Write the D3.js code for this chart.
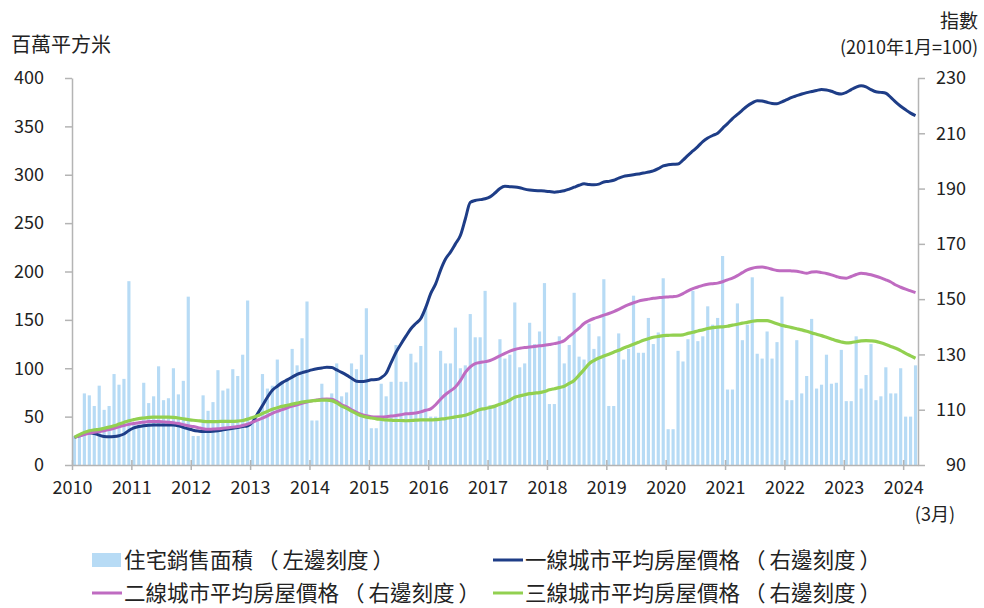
<!DOCTYPE html>
<html>
<head>
<meta charset="utf-8">
<script src="https://d3js.org/d3.v7.min.js"></script>
<style>
  body { margin: 0; background: #fff; }
  svg { font-family: "Noto Sans CJK TC", "Noto Sans", sans-serif; }
</style>
</head>
<body>
<div id="chart"></div>
<script>
// year tick labels, one per January
var years = ['2010','2011','2012','2013','2014','2015','2016','2017','2018','2019','2020','2021','2022','2023','2024'];

// residential floor space sold, million sq m, monthly Jan 2010 - Mar 2024
var salesArea = [
  30, 30, 74, 72, 61, 82, 57, 61, 94, 83, 89, 190,
  42, 42, 85, 64, 71, 102, 67, 69, 100, 73, 87, 174,
  30, 30, 72, 56, 65, 98, 77, 79, 99, 92, 114, 170,
  45, 45, 94, 79, 82, 109, 87, 87, 120, 103, 131, 169,
  46, 46, 84, 69, 74, 105, 71, 75, 105, 99, 114, 162,
  38, 38, 84, 71, 86, 124, 86, 86, 115, 106, 123, 164,
  50, 50, 118, 105, 105, 142, 100, 103, 156, 132, 132, 180,
  62, 62, 130, 110, 114, 168, 101, 105, 147, 125, 138, 188,
  63, 63, 133, 105, 124, 178, 112, 109, 146, 120, 133, 192,
  61, 61, 136, 109, 120, 175, 116, 116, 152, 125, 137, 193,
  37, 37, 118, 107, 130, 180, 128, 133, 164, 145, 152, 216,
  78, 78, 167, 129, 145, 194, 115, 110, 138, 110, 127, 174,
  67, 67, 129, 74, 92, 151, 79, 83, 114, 84, 85, 119,
  66, 66, 133, 79, 93, 125, 67, 71, 101, 74, 74, 100,
  50, 50, 103
];

// average house price index, Jan 2010 = 100
var tier1 = [
  100, 100.6, 101.3, 101.7, 101.4, 100.8, 100.3, 100.2, 100.3, 100.6, 101.2, 102.5,
  103.4, 103.9, 104.2, 104.4, 104.5, 104.5, 104.5, 104.5, 104.5, 104.2, 103.6, 103.1,
  102.6, 102.3, 102.1, 102.1, 102.2, 102.4, 102.7, 103.0, 103.3, 103.6, 103.9, 104.2,
  105.5, 108.5, 111.5, 114.5, 117, 118.5, 119.8, 120.8, 121.8, 122.8, 123.4, 123.9,
  124.4, 124.8, 125.1, 125.4, 125.3, 124.4, 123.5, 122.5, 121.4, 120.3, 120.2, 120.4,
  120.8, 120.9, 121.6, 123.2, 127, 130.8, 133.8, 136.6, 139.3, 141.2, 143, 147,
  152, 155.5, 160.5, 164.5, 167, 170, 173, 179, 185, 185.7, 186, 186.3,
  187, 188.4, 190, 190.8, 190.7, 190.6, 190.3, 189.8, 189.5, 189.3, 189.2, 189.1,
  188.9, 188.7, 188.9, 189.2, 189.8, 190.5, 191.2, 191.7, 191.5, 191.4, 191.6, 192.4,
  192.6, 193, 193.8, 194.4, 194.7, 195, 195.3, 195.6, 196, 196.4, 197.2, 198.2,
  198.6, 198.8, 198.9, 200.3, 202, 203.6, 205.2, 207, 208.3, 209.2, 210, 211.8,
  213.5, 215.3, 216.8, 218.4, 219.9, 221, 221.8, 221.7, 221.2, 220.8, 220.7, 221.4,
  222.2, 223, 223.6, 224.2, 224.7, 225.1, 225.5, 225.8, 225.7, 225.2, 224.5, 224.2,
  224.8, 225.8, 226.7, 227.2, 226.8, 225.8, 225, 224.8, 224.5, 223, 221.3, 219.8,
  218.5, 217.3, 216.4
];
var tier2 = [
  100, 100.5, 101, 101.5, 101.8, 102.1, 102.4, 102.8, 103.3, 103.8, 104.3, 104.7,
  105, 105.3, 105.5, 105.7, 105.7, 105.7, 105.6, 105.5, 105.3, 105, 104.6, 104.2,
  103.9, 103.5, 103.1, 102.9, 103, 103.1, 103.3, 103.5, 103.7, 103.9, 104.3, 104.8,
  105.5, 106.2, 107, 107.8, 108.7, 109.4, 110, 110.7, 111.3, 111.8, 112.3, 112.8,
  113.2, 113.5, 113.8, 113.9, 113.8, 113, 111.8, 111, 110, 109, 108.3, 107.8,
  107.5, 107.4, 107.4, 107.5, 107.7, 107.9, 108.2, 108.5, 108.6, 108.8, 109.2, 109.8,
  110.3, 111.8, 113.8, 115.5, 116.8, 118.2, 120.5, 123.5, 125.5, 126.7, 127.1, 127.4,
  127.8, 128.6, 129.5, 130.4, 131.2, 131.8, 132.2, 132.5, 132.7, 132.9, 133.1, 133.3,
  133.6, 133.9, 134.3, 135, 136.5, 138, 139.5, 141.2, 142.2, 143, 143.6, 144.2,
  144.8, 145.5, 146.3, 147.2, 148, 148.7, 149.3, 149.7, 150, 150.3, 150.5, 150.7,
  150.8, 150.9, 151.2, 152, 153, 153.8, 154.4, 155, 155.4, 155.6, 155.8, 156.3,
  157, 157.6, 158.5, 159.6, 160.6, 161.2, 161.5, 161.6, 161.3, 160.8, 160.4, 160.3,
  160.3, 160.2, 160.1, 159.7, 159.4, 159.8, 159.9, 159.6, 159.3, 158.8, 158.2, 157.7,
  157.6, 158.2, 158.9, 159.4, 159.2, 158.8, 158.3, 157.7, 157, 156.2, 155.1, 154.3,
  153.6, 153, 152.4
];
var tier3 = [
  100, 101, 101.8, 102.4, 102.7, 102.9, 103.3, 103.7, 104.2, 104.8, 105.4, 106,
  106.4, 106.8, 107, 107.2, 107.3, 107.3, 107.3, 107.3, 107.2, 107, 106.7, 106.4,
  106.2, 106, 105.8, 105.7, 105.7, 105.7, 105.8, 105.8, 105.8, 105.9, 106.1, 106.6,
  107.2, 107.8, 108.6, 109.4, 110.2, 110.7, 111.2, 111.6, 112, 112.4, 112.8, 113,
  113.2, 113.4, 113.5, 113.5, 113.3, 112.5, 111.3, 110.5, 109.5, 108.6, 107.8, 107.3,
  107, 106.7, 106.5, 106.3, 106.2, 106.1, 106.1, 106, 106.1, 106.2, 106.3, 106.3,
  106.3, 106.4, 106.6, 106.8, 107.1, 107.4, 107.7, 108, 108.6, 109.4, 110.1, 110.4,
  110.8, 111.3, 112, 112.6, 113.5, 114.5, 115, 115.4, 115.8, 116, 116.2, 116.6,
  117.2, 117.6, 118, 118.5, 119.5, 120.6, 122.5, 124.5, 126.6, 127.8, 128.7, 129.4,
  130.1, 130.8, 131.5, 132.3, 133, 133.7, 134.4, 135.1, 135.7, 136.2, 136.5, 136.8,
  136.9, 137, 137, 137.1, 137.6, 138, 138.5, 138.9, 139.4, 139.7, 139.9, 140,
  140.2, 140.6, 140.9, 141.3, 141.6, 142, 142.2, 142.2, 142.2, 141.7, 141.1, 140.5,
  140.1, 139.7, 139.3, 138.9, 138.4, 137.8, 137.3, 136.8, 136.2, 135.6, 135, 134.5,
  134.2, 134.3, 134.6, 134.9, 135, 134.9, 134.7, 134.2, 133.6, 132.9, 132.2, 131.4,
  130.4, 129.5, 128.6
];

var legendItems = [
  {name: '住宅銷售面積', scale: '左邊刻度', type: 'bar', color: '#b7dbf5'},
  {name: '一線城市平均房屋價格', scale: '右邊刻度', type: 'line', color: '#1e3d87'},
  {name: '二線城市平均房屋價格', scale: '右邊刻度', type: 'line', color: '#bf6bc1'},
  {name: '三線城市平均房屋價格', scale: '右邊刻度', type: 'line', color: '#92d050'}
];

var width = 984, height = 608;
var plotL = 72, plotR = 918, plotT = 78, plotB = 465;
var axisColor = '#b4b4b4';
var textColor = '#222';

var svg = d3.select('#chart').append('svg')
    .attr('width', width)
    .attr('height', height);

// month index scale (0 = Jan 2010), 171 months span the plot
var x = d3.scaleLinear()
    .domain([0, salesArea.length])
    .range([plotL, plotR]);
var step = x(1) - x(0);
var barW = step * 0.64;

var yL = d3.scaleLinear().domain([0, 400]).range([plotB, plotT]);
var yR = d3.scaleLinear().domain([90, 230]).range([plotB, plotT]);

// bars
svg.append('g').selectAll('rect')
    .data(salesArea)
    .join('rect')
    .attr('x', (d, i) => x(i + 0.5) - barW / 2)
    .attr('y', d => yL(d))
    .attr('width', barW)
    .attr('height', d => yL(0) - yL(d))
    .attr('fill', '#b7dbf5');

// price lines
var line = d3.line()
    .curve(d3.curveMonotoneX)
    .x((d, i) => x(i + 0.5))
    .y(d => yR(d));

[[tier1, legendItems[1].color, 3], [tier2, legendItems[2].color, 3], [tier3, legendItems[3].color, 3.2]].forEach(function(s) {
    svg.append('path')
        .datum(s[0])
        .attr('fill', 'none')
        .attr('stroke', s[1])
        .attr('stroke-width', s[2])
        .attr('stroke-linejoin', 'round')
        .attr('d', line);
});

// left axis
var axL = svg.append('g')
    .attr('transform', 'translate(' + plotL + ',0)')
    .call(d3.axisLeft(yL).tickValues(d3.range(0, 401, 50)).tickSizeInner(7).tickSizeOuter(0).tickPadding(21));

// right axis
var axR = svg.append('g')
    .attr('transform', 'translate(' + plotR + ',0)')
    .call(d3.axisRight(yR).tickValues(d3.range(90, 231, 20)).tickSizeInner(7).tickSizeOuter(0));
axR.selectAll('.tick text')
    .attr('text-anchor', 'end')
    .attr('x', 48);

// bottom axis, ticks at each January crossing the baseline
var axB = svg.append('g')
    .attr('transform', 'translate(0,' + plotB + ')')
    .call(d3.axisBottom(x).tickValues(d3.range(0, 169, 12)).tickFormat(d => years[d / 12]).tickSizeInner(5).tickSizeOuter(0).tickPadding(11));
axB.selectAll('.tick line').attr('y1', -5);

[axL, axR, axB].forEach(function(a) {
    a.select('.domain').attr('stroke', axisColor).attr('stroke-width', 1.5);
    a.selectAll('.tick line').attr('stroke', axisColor).attr('stroke-width', 1.5);
    a.selectAll('.tick text')
        .attr('fill', textColor)
        .style('font-size', '18px')
        .style('font-family', '"Noto Sans CJK TC", sans-serif');
});

// axis titles
svg.append('text')
    .attr('x', 11).attr('y', 52)
    .attr('fill', textColor)
    .style('font-size', '20px')
    .text('百萬平方米');
svg.append('text')
    .attr('x', 978).attr('y', 28)
    .attr('text-anchor', 'end')
    .attr('fill', textColor)
    .style('font-size', '19px')
    .text('指數');
svg.append('text')
    .attr('x', 978).attr('y', 54)
    .attr('text-anchor', 'end')
    .attr('fill', textColor)
    .style('font-size', '18px')
    .text('(2010年1月=100)');
svg.append('text')
    .attr('x', 955).attr('y', 521)
    .attr('text-anchor', 'end')
    .attr('fill', textColor)
    .style('font-size', '18px')
    .text('(3月)');

// legend, two columns two rows
var legPos = [[92, 560], [493, 560], [92, 593], [493, 593]];
var leg = svg.append('g').selectAll('g')
    .data(legendItems)
    .join('g')
    .attr('transform', (d, i) => 'translate(' + legPos[i][0] + ',' + legPos[i][1] + ')');
leg.filter(d => d.type === 'bar').append('rect')
    .attr('x', 0).attr('y', -7)
    .attr('width', 29).attr('height', 14)
    .attr('fill', d => d.color);
leg.filter(d => d.type === 'line').append('line')
    .attr('x1', 0).attr('x2', 30)
    .attr('y1', 0).attr('y2', 0)
    .attr('stroke', d => d.color)
    .attr('stroke-width', 3);
var legText = leg.append('text')
    .attr('x', 32)
    .attr('y', 8)
    .attr('fill', textColor)
    .style('font-size', '21.5px');
legText.append('tspan').text(d => d.name);
// wider brackets, as in the original
legText.append('tspan').attr('dx', 4).text('（');
legText.append('tspan').attr('dx', 4).text(d => d.scale);
legText.append('tspan').attr('dx', 4).text('）');
</script>
</body>
</html>
